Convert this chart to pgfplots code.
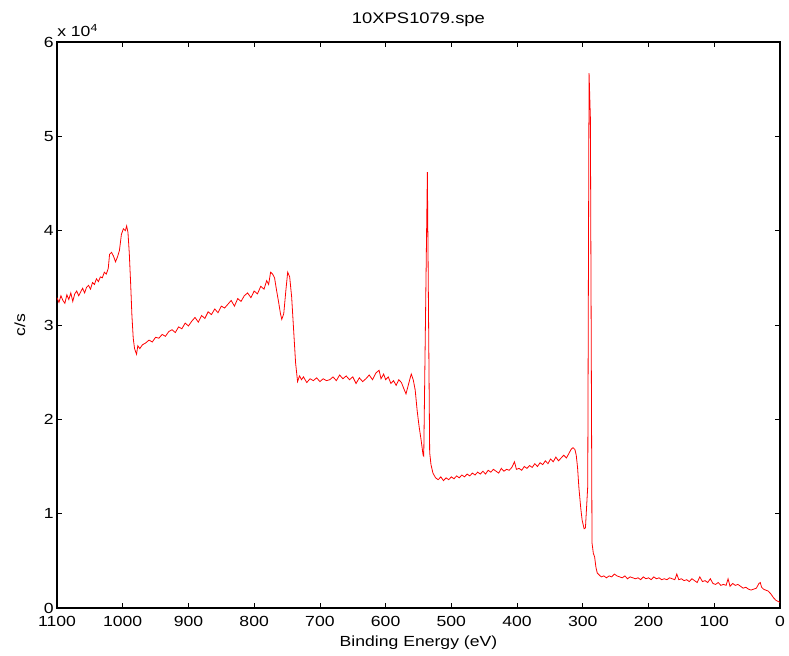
\documentclass[border=0pt]{standalone}
\usepackage{fontspec}
\setmainfont[FakeStretch=1.2]{Liberation Sans}
\usepackage{pgfplots}
\pgfplotsset{compat=1.18}

\begin{document}
\begin{tikzpicture}[font=\fontsize{11}{13}\selectfont]
% page 789x656 px at 0.75pt/px, axis box from (57,42) to (780,608) px
\path[use as bounding box] (-42.75pt,-36pt) rectangle (549pt,456pt);
\begin{axis}[
    at={(0,0)}, anchor=south west,
    scale only axis,
    width=542.25pt, height=424.5pt,
    x dir=reverse,
    xmin=0, xmax=1100, ymin=0, ymax=60000,
    xtick={0,100,...,1100},
    ytick={0,10000,...,60000},
    yticklabels={0,1,2,3,4,5,6},
    scaled y ticks=false,
    tick align=inside,
    major tick length=4pt,
    axis line style={line width=0.8pt},
    every tick/.style={black, line width=0.6pt},
    /pgf/number format/assume math mode=true,
    /pgf/number format/set thousands separator={},
    x tick label style={yshift=-3pt},
    y tick label style={xshift=1pt},
    xlabel={Binding Energy (eV)},
    xlabel style={at={(axis description cs:0.5,0)}, anchor=center, yshift=-26pt},
    ylabel={c/s},
    ylabel style={at={(axis description cs:-0.0512,0.5)}, anchor=center},
]
\addplot[red, line width=0.6pt] table {
x y
1100 32900
1097 32400
1094 33100
1091 32600
1088 32300
1085 33200
1082 32700
1079 33400
1076 32500
1073 33300
1070 33600
1067 33100
1064 33500
1061 33900
1058 33400
1055 34000
1052 34200
1049 33800
1046 34500
1043 34300
1040 34900
1037 34600
1034 35100
1031 35000
1028 35600
1025 35400
1022 36000
1020 37500
1017 37700
1014 37300
1011 36700
1008 37200
1005 37900
1002 39600
999 40200
996 40000
994 40500
992 39800
990 37600
988 34500
986 31000
984 28600
982 27500
979 26900
977 27800
974 27500
970 27900
965 28100
960 28400
955 28200
950 28700
945 28600
940 29000
935 28800
930 29300
925 29500
920 29200
915 29800
910 29600
905 30200
900 29900
895 30400
890 30800
885 30300
880 31000
875 30700
870 31400
865 31100
860 31700
855 31300
850 32000
845 31800
840 32200
835 32600
830 32000
825 32800
820 32500
815 33100
810 33400
805 32900
800 33600
795 33300
790 34100
785 33800
781 34700
778 34300
775 35600
772 35400
769 35000
766 33700
763 32500
760 31200
758 30600
755 31200
752 33500
749 35600
746 35100
743 33000
740 29500
737 26000
734 24000
731 24600
728 24200
725 24500
720 23900
715 24300
710 24100
705 24400
700 24000
695 24300
690 24100
685 24200
680 24500
675 24100
670 24700
665 24300
660 24600
655 24200
650 24500
645 23800
640 24400
635 24000
630 24300
625 24700
620 24200
615 24900
610 25200
607 24300
603 24800
600 24200
596 24500
592 23800
588 24100
584 23600
580 24200
576 23900
572 23200
569 22700
566 23500
563 24300
561 24800
558 24200
555 23100
552 20900
549 19200
546 17800
543 16200
542 16100
536.5 46200
533 16500
531 15200
528 14300
524 13800
520 13600
516 13900
512 13500
508 13800
504 13600
500 13900
496 13700
492 14000
488 13800
484 14100
480 13900
476 14200
472 14000
468 14300
464 14100
460 14400
456 14200
452 14500
448 14200
444 14600
440 14400
436 14700
432 14500
428 14300
424 14800
420 14500
416 14700
412 14600
408 14900
404 15500
401 14700
397 14800
393 14600
389 15000
385 14800
381 15100
377 14900
373 15300
369 15000
365 15400
361 15200
357 15600
353 15300
349 15800
345 15500
341 16000
337 15600
333 15900
329 16200
325 15900
321 16400
318 16800
315 17000
312 16800
310 16200
308 14900
306 12800
303 10500
301 9300
298 8400
296 8500
292.5 12900
290.5 56700
288.5 52000
286 6900
284 5800
282 5400
280 4300
278 3700
275 3500
272 3300
268 3400
264 3200
260 3400
256 3300
252 3600
248 3400
244 3300
240 3200
236 3400
232 3100
228 3300
224 3200
220 3100
216 3200
212 3000
208 3300
204 3100
200 3200
196 3000
192 3300
188 3100
184 3200
180 3000
176 3100
172 3000
168 3200
164 3100
160 3000
157 3600
154 3000
150 3100
146 2900
142 3000
138 2800
134 3100
130 2900
126 2700
122 3300
118 2800
114 2900
110 2700
106 3100
102 2600
98 2500
94 2700
90 2400
86 2500
82 2400
79 3100
76 2300
72 2600
68 2400
64 2500
60 2300
56 2100
52 2200
48 2000
44 1900
40 2000
36 2100
32 2600
30 2700
28 2200
25 2000
22 1900
18 1800
14 1500
10 1100
6 800
3 700
0 600
};
\end{axis}
\node[anchor=south west, inner sep=0pt] at (0pt,428pt) {x 10\textsuperscript{4}};
\node[anchor=center, font=\fontsize{11.5}{13}\selectfont] at (271.1pt,441pt) {10XPS1079.spe};
\end{tikzpicture}
\end{document}
